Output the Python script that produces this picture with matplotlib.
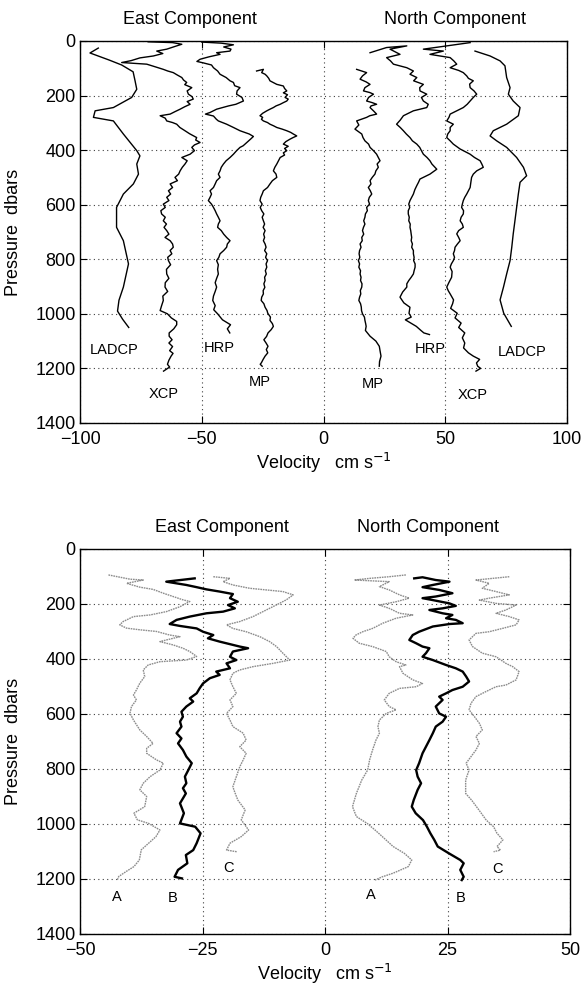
import matplotlib
matplotlib.use("Agg")
import matplotlib.pyplot as plt
import matplotlib.transforms as mtransforms

plt.rcParams['font.family'] = ['Liberation Sans', 'DejaVu Sans']

# ---------------- top panel: instrument profiles (velocity cm/s, pressure dbar)
ladcp_e_p = [26, 44, 70, 88, 113, 146, 177, 207, 244, 256, 280, 293, 341, 402, 421, 451, 488, 524,
             561, 610, 683, 732, 817, 902, 950, 990, 1020, 1050]
ladcp_e_u = [-92.5, -95.9, -88.0, -82.9, -78.2, -77.4, -76.7, -78.8, -86.3, -93.8, -94.5, -86.3, -82.2,
             -76.7, -75.4, -76.7, -76.0, -78.1, -82.2, -85.0, -85.0, -82.2, -80.1, -82.2, -84.0, -84.6,
             -82.5, -80.0]

xcp_e_p = [3, 6, 12, 20, 30, 37, 46, 55, 62, 72, 79, 85, 95, 104, 110, 116, 125, 134, 143, 152, 160,
           171, 183, 195, 204, 213, 222, 232, 241, 250, 259, 268, 274, 283, 293, 299, 305, 317, 329,
           340, 354, 363, 372, 381, 390, 402, 415, 427, 439, 451, 463, 476, 488, 500, 512, 524, 537,
           549, 561, 573, 585, 598, 610, 622, 634, 646, 659, 671, 683, 695, 708, 720, 732, 744, 756,
           768, 780, 793, 805, 820, 837, 854, 870, 886, 902, 918, 935, 951, 970, 988, 1000, 1015,
           1028, 1040, 1055, 1070, 1082, 1095, 1107, 1120, 1135, 1145, 1155, 1170, 1185, 1195, 1210]
xcp_e_u = [-72, -62, -58.2, -61, -64.4, -68.5, -66, -69.9, -75.4, -79, -82.9, -72.6, -69, -65.8, -64,
           -61.7, -60, -58.2, -57.5, -56.2, -57, -54.1, -56, -55.5, -54, -53.5, -56, -54.8, -57, -58.9,
           -61, -63.0, -67.1, -65, -64.4, -62, -60.3, -59, -56.9, -55, -52.1, -52.5, -50.7, -53, -54.1,
           -53, -54.8, -58.2, -56, -56.9, -58, -58.9, -59.5, -61.0, -60, -63.0, -62, -63.7, -62.8,
           -64.4, -63.5, -65.8, -65, -66.8, -66.5, -65, -65.8, -64.5, -65.5, -64.4, -63.5, -65.1, -63,
           -62, -61.7, -63, -62.3, -64, -63.7, -62.8, -64.5, -64.4, -63.5, -65, -65.1, -64, -66, -65.8,
           -66.5, -67.1, -64.1, -62.5, -60.3, -60.3, -61.5, -63.4, -63.4, -62.2, -63.5, -62.0, -63.2,
           -61.8, -62.6, -63.5, -64.1, -63.2, -65.7]

hrp_e_p = [4, 8, 14, 22, 30, 37, 43, 49, 58, 67, 75, 80, 88, 98, 110, 122, 134, 146, 152, 164, 171,
           183, 195, 207, 220, 232, 238, 250, 262, 268, 275, 287, 293, 305, 317, 329, 341, 350, 360,
           372, 384, 390, 402, 415, 427, 439, 451, 463, 476, 488, 500, 512, 524, 537, 549, 561, 573,
           585, 598, 610, 622, 634, 646, 659, 671, 683, 695, 708, 720, 732, 744, 756, 768, 780, 793,
           805, 820, 837, 854, 870, 886, 902, 918, 935, 951, 970, 985, 1000, 1022, 1040, 1055, 1070]
hrp_e_u = [-50, -42, -37, -41, -38, -38.4, -43.9, -42.5, -47, -50.7, -52, -49.5, -46, -45.2, -43.5,
           -42.5, -40, -38.4, -37, -36.5, -34.3, -35.5, -35.7, -33.5, -32.9, -36, -39, -43.9, -46.6,
           -48.5, -45.2, -44, -43.2, -39.8, -37, -34.3, -30.5, -28.8, -30, -31.5, -33, -34.3, -35.7,
           -37, -38.4, -40, -41.1, -42, -42.5, -43.2, -42.5, -43.9, -44.5, -45.2, -46.6, -46, -46.6,
           -47.3, -46, -45.2, -44.5, -43.9, -43.2, -42.5, -43.2, -43.5, -42, -41, -39.8, -38.4, -39.5,
           -39.8, -41, -42.5, -43, -43.9, -43.2, -43.5, -43.2, -43.9, -44.5, -43.9, -44.5, -45.2,
           -45.5, -44.5, -45.1, -43.5, -41.5, -38.2, -39.5, -38.5]

mp_e_p = [110, 104, 116, 122, 128, 137, 146, 153, 159, 165, 174, 183, 190, 197, 207, 213, 220, 226,
          232, 238, 244, 250, 256, 265, 274, 280, 287, 293, 299, 305, 311, 317, 323, 329, 335, 341,
          348, 354, 360, 369, 378, 386, 394, 402, 410, 418, 427, 439, 451, 463, 476, 488, 500, 512,
          524, 537, 549, 561, 573, 585, 598, 610, 622, 634, 646, 659, 671, 683, 695, 708, 720, 732,
          744, 756, 768, 780, 793, 805, 817, 829, 842, 854, 866, 878, 890, 903, 915, 927, 939, 951,
          963, 976, 988, 998, 1012, 1024, 1036, 1046, 1058, 1070, 1083, 1095, 1107, 1119, 1131, 1143,
          1155, 1167, 1179, 1185, 1192]
mp_e_u = [-27.5, -24.7, -25.4, -24, -23.3, -22.5, -22.0, -20.5, -19.2, -16.5, -16, -15.1, -16.5,
          -14.8, -15.8, -14.5, -15.1, -16.5, -17.8, -19.5, -20.6, -22, -23.3, -25, -26.1, -25, -25.5,
          -24.7, -23, -22.0, -20.5, -19.2, -17, -15.1, -13.5, -12.4, -11.0, -12.5, -13.8, -15.5,
          -16.5, -14.5, -16, -15.1, -16.5, -16, -17.8, -18.5, -19.2, -20, -20.6, -19.5, -19.2, -21,
          -22.0, -23, -24.7, -25.2, -25.8, -26.1, -25.2, -26, -25.4, -24.5, -25.2, -24.7, -24.2,
          -24.8, -24.0, -24.6, -24.2, -24.7, -24, -23.6, -24.2, -23.3, -23.8, -23.0, -23.6, -23.3,
          -23.9, -23.5, -24.2, -24.0, -24.5, -24.1, -24.8, -24.7, -25.4, -25.6, -24.5, -24.0, -23.2,
          -22.9, -21.8, -22.0, -21.0, -20.6, -21.5, -22.8, -23.4, -24.5, -23.6, -22.8, -23.5, -22.9,
          -24, -24.8, -25.5, -26.0, -25.2]

mp_n_p = [104, 116, 128, 140, 150, 159, 171, 183, 189, 195, 207, 220, 226, 232, 238, 244, 256, 268,
          274, 280, 293, 308, 323, 341, 354, 366, 378, 390, 402, 415, 427, 439, 451, 463, 476, 488,
          500, 512, 524, 537, 549, 561, 573, 585, 598, 610, 622, 634, 646, 659, 671, 683, 695, 708,
          720, 732, 744, 756, 768, 780, 793, 805, 817, 829, 842, 854, 866, 878, 890, 902, 915, 927,
          939, 951, 963, 975, 988, 1000, 1012, 1024, 1036, 1046, 1061, 1082, 1100, 1119, 1135, 1155,
          1175, 1192]
mp_n_u = [13.6, 17.7, 16.0, 15.0, 17.5, 19.1, 17.0, 16.4, 19.0, 20.5, 18.5, 17.7, 20.0, 21.8, 19.5,
          19.1, 20.5, 21.8, 19.0, 17.7, 13.6, 14.5, 12.9, 15.7, 16.2, 17.0, 18.5, 19.1, 20.5, 21.8,
          22.5, 23.2, 22.0, 22.5, 21.5, 21.1, 20.0, 19.1, 19.5, 18.4, 19.2, 19.8, 18.8, 18.4, 18.9,
          17.7, 18.0, 17.2, 17.0, 16.5, 17.0, 16.4, 16.0, 16.5, 15.7, 15.9, 15.0, 15.4, 14.8, 14.6,
          14.9, 14.3, 14.8, 14.5, 15.2, 15.0, 15.4, 15.2, 15.8, 15.7, 15.1, 15.3, 14.8, 14.5, 15.2,
          15.5, 15.6, 16.0, 16.8, 17.0, 17.3, 17.5, 17.2, 19.1, 21.5, 22.9, 23.2, 23.6, 23.0, 22.9]

hrp_n_p = [43, 24, 18, 30, 49, 61, 73, 85, 98, 110, 122, 134, 146, 159, 171, 183, 195, 207, 220, 232,
           244, 256, 274, 290, 305, 317, 329, 341, 354, 366, 378, 390, 402, 415, 427, 439, 451, 470,
           488, 506, 518, 530, 545, 561, 573, 585, 598, 610, 622, 634, 646, 659, 671, 683, 695, 708,
           720, 732, 744, 756, 768, 780, 793, 805, 817, 829, 842, 854, 866, 878, 890, 902, 920, 939,
           960, 976, 998, 1012, 1022, 1046, 1061, 1070, 1076]
hrp_n_u = [19.1, 25.9, 34.2, 27.3, 31.4, 25.9, 27.5, 28.7, 34.2, 36.9, 35.5, 38.3, 37.0, 41.0, 39.5,
           39.6, 42.4, 40.2, 41.0, 43.0, 42.4, 36.9, 32.8, 31.5, 30.0, 31.5, 32.8, 34.0, 35.5, 36.5,
           38.3, 39.5, 40.2, 41.0, 42.5, 43.7, 44.5, 46.5, 43.7, 39.6, 39.0, 38.3, 37.5, 36.9, 36.2,
           35.5, 35.0, 35.4, 34.8, 34.8, 35.2, 35.0, 35.6, 35.5, 35.8, 36.0, 36.2, 36.0, 36.5, 36.2,
           36.9, 36.9, 37.2, 37.0, 37.6, 37.6, 37.2, 36.9, 36.0, 35.0, 34.2, 34.2, 32.5, 31.4, 33.0,
           35.5, 35.1, 36.0, 33.6, 38.1, 40.0, 41.2, 43.5]

xcp_n_p = [6, 18, 30, 37, 49, 61, 73, 85, 98, 108, 116, 128, 137, 146, 158, 171, 183, 195, 207, 220,
           232, 244, 256, 268, 280, 293, 305, 317, 329, 341, 354, 366, 378, 396, 415, 427, 439, 451,
           463, 476, 488, 500, 518, 537, 549, 561, 573, 585, 598, 610, 622, 634, 646, 659, 671, 683,
           695, 707, 720, 732, 744, 756, 768, 780, 793, 805, 817, 829, 845, 866, 885, 902, 915, 927,
           949, 963, 980, 998, 1015, 1034, 1050, 1070, 1088, 1107, 1125, 1143, 1155, 1167, 1180, 1192,
           1200, 1210]
xcp_n_u = [60.2, 50.6, 41.0, 49.2, 43.7, 52.0, 53.5, 54.7, 52.0, 55.5, 57.4, 58.8, 59.5, 61.5, 60.0,
           60.2, 61.8, 62.9, 61.5, 60.2, 59.0, 57.4, 54.7, 52.0, 51.5, 50.6, 53.3, 52.0, 52.0, 51.0,
           50.6, 52.0, 53.3, 56.1, 60.2, 62.0, 64.3, 65.0, 65.6, 62.9, 61.5, 60.8, 60.5, 60.2, 59.5,
           58.8, 58.0, 57.4, 57.0, 56.7, 57.5, 57.4, 56.5, 56.1, 57.0, 57.4, 55.5, 54.7, 55.5, 56.1,
           55.0, 54.0, 53.8, 53.3, 53.8, 53.3, 52.5, 52.0, 52.8, 52.6, 51.5, 50.6, 51.2, 52.0, 53.4,
           53.0, 52.2, 54.9, 54.0, 56.5, 55.5, 58.0, 57.0, 58.0, 57.5, 59.5, 61.5, 64.1, 62.8, 63.3,
           64.5, 62.6]

ladcp_n_p = [37, 55, 73, 91, 134, 171, 195, 220, 244, 274, 305, 329, 348, 366, 390, 427, 463, 494,
             518, 561, 610, 659, 707, 756, 805, 854, 902, 949, 998, 1046]
ladcp_n_u = [62.2, 68.4, 72.5, 74.5, 75.2, 76.6, 75.9, 77.9, 80.7, 80.0, 75.2, 69.7, 68.4, 71.1,
             75.2, 79.3, 82.1, 83.4, 80.7, 80.0, 79.3, 78.6, 77.9, 77.3, 76.6, 75.2, 73.9, 72.5,
             74.0, 77.1]

top_labels = ['LADCP', 'XCP', 'HRP', 'MP', 'MP', 'HRP', 'XCP', 'LADCP']
top_label_u = [-86, -65.7, -42.8, -26, 20.1, 43.9, 61.4, 81.7]
top_label_p = [1131, 1295, 1125, 1250, 1258, 1128, 1298, 1141]

# ---------------- bottom panel: A / B / C profiles
a_e_p = [94.5, 110, 113, 125, 139, 147, 161, 173, 185, 191, 210, 228, 240, 246, 264, 276, 288, 294,
         300, 313, 319, 331, 337, 349, 361, 373, 391, 404, 410, 422, 440, 464, 488, 513, 531, 549,
         573, 597, 622, 658, 682, 707, 725, 743, 767, 779, 804, 828, 852, 876, 900, 937, 961, 985,
         998, 1022, 1046, 1070, 1094, 1131, 1155, 1173, 1191, 1204]
a_e_u = [-44.2, -39.8, -37.1, -40.5, -37.8, -35.1, -33.0, -31.0, -29.0, -27.6, -29.6, -32.4, -35.7,
         -39.1, -41.2, -41.9, -40.5, -37.8, -34.4, -31.7, -29.6, -32.4, -33.7, -31.0, -29.0, -27.6,
         -26.2, -28.3, -33.7, -36.1, -37.1, -36.8, -37.8, -38.5, -39.1, -38.5, -39.5, -39.8, -39.1,
         -37.8, -36.4, -35.1, -36.4, -36.4, -34.4, -33.0, -33.7, -35.7, -37.1, -37.8, -36.4, -36.8,
         -39.0, -38.3, -36.0, -33.7, -34.5, -36.0, -37.5, -37.9, -39.0, -40.6, -42.1, -42.4]

b_e_p = [107, 119, 131, 139, 147, 155, 164, 179, 192, 204, 216, 228, 234, 246, 258, 273, 280, 289,
         301, 313, 325, 337, 355, 361, 373, 392, 404, 416, 434, 446, 458, 470, 489, 507, 525, 543,
         555, 573, 592, 610, 628, 646, 670, 689, 707, 731, 755, 779, 804, 828, 852, 870, 889, 925,
         961, 998, 1010, 1034, 1070, 1095, 1113, 1143, 1167, 1192, 1198]
b_e_u = [-26.6, -32.4, -28.3, -26.2, -24.2, -21.5, -18.8, -19.4, -17.8, -19.8, -18.4, -20.8, -24.2,
         -27.6, -30.3, -31.7, -29.6, -26.2, -24.9, -22.8, -23.9, -21.5, -17.4, -15.7, -18.8, -19.4,
         -18.1, -20.1, -19.4, -22.2, -21.5, -23.5, -24.9, -25.6, -26.2, -27.6, -26.9, -28.3, -29.3,
         -29.0, -29.6, -29.3, -30.3, -29.3, -30.0, -29.0, -28.3, -27.2, -27.9, -28.6, -28.3, -29.0,
         -28.4, -29.6, -28.8, -29.6, -26.5, -25.4, -26.2, -26.9, -28.4, -28.1, -30.0, -30.7, -29.2]

c_e_p = [101, 107, 119, 131, 143, 149, 155, 167, 185, 198, 222, 246, 264, 276, 289, 301, 319, 337,
         355, 379, 404, 416, 428, 440, 452, 476, 501, 525, 549, 573, 598, 622, 646, 670, 695, 719,
         743, 767, 792, 828, 864, 876, 913, 949, 985, 1022, 1046, 1070, 1095, 1101]
c_e_u = [-22.8, -19.4, -20.8, -18.8, -15.4, -12.0, -8.6, -6.5, -7.9, -9.3, -12.0, -14.7, -17.4,
         -20.1, -18.8, -16.1, -13.3, -11.3, -9.9, -8.6, -7.2, -10.6, -14.7, -17.4, -18.8, -19.4,
         -18.8, -18.1, -19.4, -18.8, -20.1, -19.4, -18.8, -16.7, -16.1, -17.4, -16.1, -16.7, -17.4,
         -18.1, -18.8, -18.6, -17.8, -16.3, -17.1, -15.6, -17.1, -19.4, -20.1, -18.0]

a_n_p = [94.5, 101, 107, 113, 119, 137, 149, 167, 179, 192, 204, 216, 234, 240, 252, 270, 289, 301,
         313, 325, 343, 355, 373, 392, 410, 422, 428, 452, 476, 489, 501, 507, 525, 549, 573, 585,
         598, 622, 646, 670, 695, 731, 767, 804, 840, 889, 937, 973, 998, 1022, 1046, 1082, 1107,
         1131, 1155, 1179, 1192, 1204]
a_n_u = [16.5, 13.1, 9.1, 6.0, 13.1, 11.1, 13.1, 15.2, 17.2, 14.5, 11.1, 13.1, 15.2, 17.9, 14.5,
         11.8, 9.7, 7.7, 6.3, 5.7, 7.0, 9.7, 12.5, 13.1, 14.5, 16.5, 15.2, 15.9, 17.9, 19.9, 18.6,
         15.2, 13.1, 12.1, 13.1, 14.5, 12.5, 11.1, 10.8, 11.1, 10.4, 9.7, 9.1, 8.7, 7.5, 6.4, 5.6,
         6.4, 8.6, 10.2, 11.7, 13.9, 16.2, 17.7, 17.0, 13.9, 11.7, 10.2]

b_n_p = [107, 103, 113, 119, 131, 139, 149, 161, 173, 179, 186, 198, 207, 216, 222, 234, 240, 252,
         258, 270, 273, 282, 301, 313, 331, 343, 355, 361, 379, 392, 404, 422, 434, 446, 464, 482,
         501, 513, 525, 537, 549, 573, 598, 610, 628, 646, 670, 695, 719, 743, 779, 804, 828, 852,
         876, 913, 937, 961, 986, 1010, 1034, 1058, 1082, 1107, 1131, 1143, 1167, 1192, 1204]
b_n_u = [18.2, 19.9, 22.6, 25.4, 22.0, 19.9, 23.3, 26.0, 22.6, 19.9, 22.0, 25.4, 26.7, 24.0, 21.3,
         24.0, 26.0, 24.7, 26.7, 28.1, 25.4, 22.0, 19.2, 17.9, 17.2, 18.6, 19.9, 21.3, 20.6, 19.9,
         22.0, 24.7, 26.7, 28.1, 28.8, 29.4, 28.1, 26.0, 24.7, 23.3, 24.0, 22.6, 23.3, 24.7, 24.0,
         22.6, 22.0, 21.3, 20.6, 19.9, 19.2, 18.6, 18.9, 19.6, 18.9, 18.1, 17.7, 18.5, 20.0, 20.8,
         21.5, 22.3, 23.0, 25.3, 27.6, 28.3, 27.6, 28.3, 27.9]

c_n_p = [101, 107, 113, 125, 143, 155, 167, 179, 186, 198, 204, 222, 234, 246, 258, 276, 289, 301,
         307, 331, 355, 379, 392, 416, 428, 446, 476, 495, 501, 519, 537, 561, 585, 610, 634, 658,
         682, 707, 731, 755, 779, 804, 840, 889, 913, 949, 986, 1010, 1034, 1058, 1082, 1095, 1101]
c_n_u = [37.6, 34.2, 30.8, 33.5, 32.1, 34.9, 37.6, 33.5, 31.5, 34.9, 39.0, 36.9, 34.9, 37.6, 39.6,
         39.0, 36.2, 33.5, 30.8, 29.4, 30.1, 32.1, 34.9, 36.9, 38.3, 39.6, 39.0, 36.9, 34.9, 32.8,
         30.8, 29.8, 29.4, 30.5, 31.5, 32.1, 30.8, 31.5, 30.8, 29.8, 28.8, 29.4, 28.7, 28.7, 29.9,
         31.4, 32.9, 34.4, 35.1, 36.3, 35.1, 35.8, 34.4]

bottom_labels = ['A', 'B', 'C', 'A', 'B', 'C']
bottom_label_u = [-42.4, -31.1, -19.7, 9.4, 27.6, 35.1]
bottom_label_p = [1264, 1270, 1161, 1258, 1270, 1165]

TICK_FS = 13
GRID_KW = dict(color='0.25', linestyle=(0, (1, 3)), linewidth=0.8)

fig = plt.figure(figsize=(5.85, 9.85), dpi=100)
ax1 = fig.add_axes([0.1368, 0.5706, 0.8325, 0.3878])
ax2 = fig.add_axes([0.1368, 0.0518, 0.8376, 0.3909])


def style_axis(ax, xticks, title_x):
    ax.set_ylim(1400, 0)
    ax.set_xlim(xticks[0], xticks[-1])
    ax.set_xticks(xticks)
    ax.set_yticks(range(0, 1401, 200))
    ax.tick_params(direction='in', length=5, width=0.8, labelsize=TICK_FS,
                   top=True, right=True)
    ax.tick_params(axis='x', pad=6)
    ax.tick_params(axis='y', pad=3)
    ax.grid(True, **GRID_KW)
    ax.set_axisbelow(True)
    for s in ax.spines.values():
        s.set_linewidth(1.0)
    ax.set_ylabel('Pressure  dbars', fontsize=TICK_FS)
    ax.yaxis.set_label_coords(-0.119, 0.5)
    ax.set_xlabel('Velocity   cm s$^{-1}$', fontsize=TICK_FS)
    ax.xaxis.set_label_coords(0.5, -0.072)
    trans = mtransforms.blended_transform_factory(ax.transData, ax.transAxes)
    ax.text(title_x[0], 1.055, 'East Component', transform=trans, ha='center', va='center',
            fontsize=TICK_FS)
    ax.text(title_x[1], 1.055, 'North Component', transform=trans, ha='center', va='center',
            fontsize=TICK_FS)


# top panel
for u, p in [(ladcp_e_u, ladcp_e_p), (xcp_e_u, xcp_e_p), (hrp_e_u, hrp_e_p), (mp_e_u, mp_e_p),
             (mp_n_u, mp_n_p), (hrp_n_u, hrp_n_p), (xcp_n_u, xcp_n_p), (ladcp_n_u, ladcp_n_p)]:
    ax1.plot(u, p, color='black', linewidth=1.0)
for lab, u, p in zip(top_labels, top_label_u, top_label_p):
    ax1.text(u, p, lab, ha='center', va='center', fontsize=10.5)
style_axis(ax1, [-100, -50, 0, 50, 100], (-55, 54))

# bottom panel
for u, p in [(a_e_u, a_e_p), (c_e_u, c_e_p), (a_n_u, a_n_p), (c_n_u, c_n_p)]:
    ax2.plot(u, p, color='0.55', linewidth=1.0, linestyle=(0, (1.2, 0.6)))
for u, p in [(b_e_u, b_e_p), (b_n_u, b_n_p)]:
    ax2.plot(u, p, color='black', linewidth=1.7)
for lab, u, p in zip(bottom_labels, bottom_label_u, bottom_label_p):
    ax2.text(u, p, lab, ha='center', va='center', fontsize=10.5)
style_axis(ax2, [-50, -25, 0, 25, 50], (-21, 21))

fig.savefig('out.png', dpi=100)
